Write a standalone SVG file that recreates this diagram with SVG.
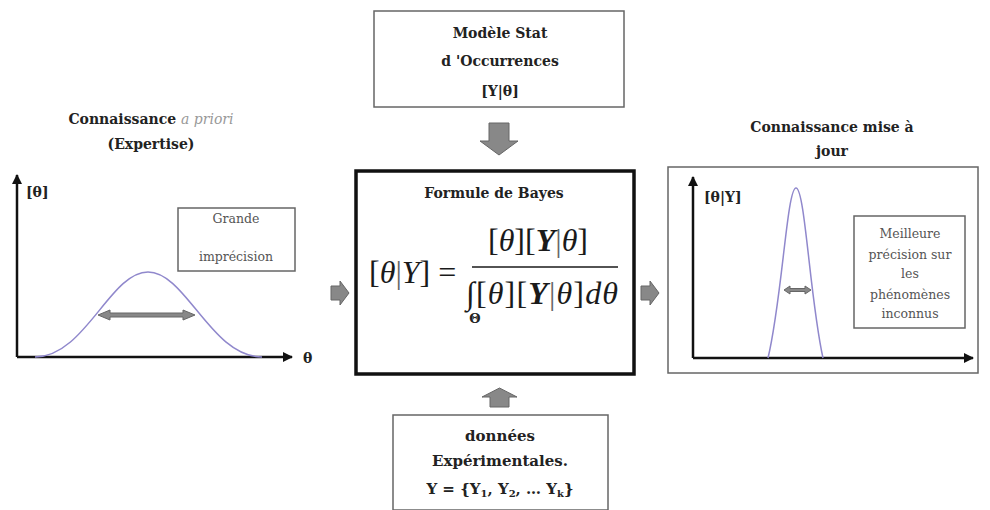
<svg xmlns="http://www.w3.org/2000/svg" width="990" height="510" viewBox="0 0 990 510">
<style>
.t{font-family:"DejaVu Serif","Liberation Serif",serif;fill:#222;}
.b{font-weight:bold;}
.s{font-size:12.5px;fill:#555;}
.box{fill:#fff;stroke:#666;stroke-width:1.5;}
.axis{stroke:#111;stroke-width:2.5;fill:none;}
.curve{stroke:#9088cc;stroke-width:1.5;fill:none;}
.garrow{fill:#888;stroke:#666;stroke-width:1;}
.f{font-family:"Liberation Serif","Times New Roman",serif;fill:#1a1a1a;font-size:32px;}
</style>
<defs>
<marker id="ah" viewBox="0 0 10 10" refX="9" refY="5" markerWidth="4" markerHeight="4" orient="auto">
<path d="M0,0 L10,5 L0,10 z" fill="#111"/>
</marker>
</defs>
<rect width="990" height="510" fill="#fff"/>

<g id="prior">
<text class="t b" x="151" y="124" text-anchor="middle" font-size="14">Connaissance <tspan font-style="italic" font-weight="normal" fill="#999">a priori</tspan></text>
<text class="t b" x="151" y="149" text-anchor="middle" font-size="14">(Expertise)</text>
<line class="axis" x1="17" y1="357" x2="17" y2="175" marker-end="url(#ah)"/>
<line class="axis" x1="17" y1="357" x2="292" y2="357" marker-end="url(#ah)"/>
<text class="t b" x="26" y="197" font-size="14">[θ]</text>
<text class="t b" x="303" y="363" font-size="14">θ</text>
<path class="curve" d="M35,357 C85,357 110,272 148,272 C186,272 211,357 262,357"/>
<path class="garrow" d="M98,315 L110,310 L110,313 L183,313 L183,310 L195,315 L183,320 L183,317 L110,317 L110,320 z"/>
<rect class="box" x="178" y="208" width="117" height="63"/>
<text class="t s" x="236" y="223" text-anchor="middle">Grande</text>
<text class="t s" x="236" y="261" text-anchor="middle">imprécision</text>
</g>

<g id="model">
<rect class="box" x="374" y="11" width="250" height="96"/>
<text class="t b" x="500" y="38" text-anchor="middle" font-size="14">Modèle Stat</text>
<text class="t b" x="500" y="66" text-anchor="middle" font-size="14">d 'Occurrences</text>
<text class="t b" x="500" y="96" text-anchor="middle" font-size="14">[Y|θ]</text>
</g>

<g id="bayes">
<rect x="356" y="171" width="278" height="203" fill="#fff" stroke="#111" stroke-width="3.5"/>
<text class="t b" x="494" y="198" text-anchor="middle" font-size="14">Formule de  Bayes</text>
<text class="f" x="369" y="283">[<tspan font-style="italic">θ</tspan><tspan fill="#666">|</tspan><tspan font-style="italic">Y</tspan>] =</text>
<text class="f" x="538" y="251" text-anchor="middle">[<tspan font-style="italic">θ</tspan>][<tspan font-style="italic" font-weight="bold">Y</tspan><tspan fill="#666">|</tspan><tspan font-style="italic">θ</tspan>]</text>
<line x1="472" y1="267" x2="618" y2="267" stroke="#1a1a1a" stroke-width="1.5"/>
<text class="f" x="466" y="304" textLength="152">∫[<tspan font-style="italic">θ</tspan>][<tspan font-style="italic" font-weight="bold">Y</tspan><tspan fill="#666">|</tspan><tspan font-style="italic">θ</tspan>]<tspan font-style="italic">dθ</tspan></text>
<text class="t b" x="475" y="323" text-anchor="middle" font-size="13">Θ</text>
</g>

<g id="data">
<rect class="box" x="393" y="415" width="215" height="95"/>
<text class="t b" x="500" y="441" text-anchor="middle" font-size="15">données</text>
<text class="t b" x="500" y="466" text-anchor="middle" font-size="15">Expérimentales.</text>
<text class="t b" x="500" y="494" text-anchor="middle" font-size="15">Y = {Y<tspan font-size="10" dy="3">1</tspan><tspan dy="-3">, Y</tspan><tspan font-size="10" dy="3">2</tspan><tspan dy="-3">, … Y</tspan><tspan font-size="10" dy="3">k</tspan><tspan dy="-3">}</tspan></text>
</g>

<g id="posterior">
<text class="t b" x="832" y="132" text-anchor="middle" font-size="14">Connaissance mise à</text>
<text class="t b" x="832" y="156" text-anchor="middle" font-size="14">jour</text>
<rect class="box" x="668" y="167" width="310" height="206"/>
<line class="axis" x1="693" y1="358" x2="693" y2="177" marker-end="url(#ah)"/>
<line class="axis" x1="693" y1="358" x2="973" y2="358" marker-end="url(#ah)"/>
<text class="t b" x="704" y="202" font-size="14">[θ|Y]</text>
<path class="curve" d="M768,358 C782,300 787,188 796,188 C805,188 810,300 823,358"/>
<path class="garrow" d="M784,290 L790,286 L790,288.5 L805,288.5 L805,286 L811,290 L805,294 L805,291.5 L790,291.5 L790,294 z"/>
<rect class="box" x="854" y="216" width="111" height="112"/>
<text class="t s" x="910" y="238" text-anchor="middle">Meilleure</text>
<text class="t s" x="910" y="259" text-anchor="middle">précision sur</text>
<text class="t s" x="910" y="278" text-anchor="middle">les</text>
<text class="t s" x="910" y="299" text-anchor="middle">phénomènes</text>
<text class="t s" x="910" y="318" text-anchor="middle">inconnus</text>
</g>

<g id="connectors">
<path class="garrow" d="M489,123 L509,123 L509,141 L518,141 L499,155 L480,141 L489,141 z"/>
<path class="garrow" d="M490,407 L509,407 L509,397 L517,397 L499.5,388 L482,397 L490,397 z"/>
<path class="garrow" d="M331,286 L340,286 L340,281 L349,293 L340,305 L340,300 L331,300 z"/>
<path class="garrow" d="M641,286 L650,286 L650,281 L659,293 L650,305 L650,300 L641,300 z"/>
</g>
</svg>
